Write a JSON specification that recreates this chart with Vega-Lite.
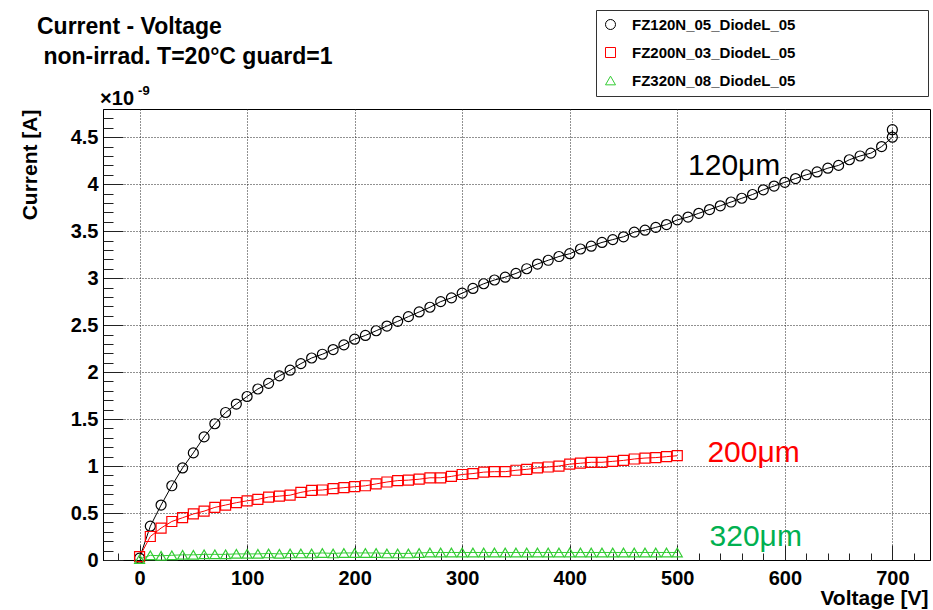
{
  "$schema": "https://vega.github.io/schema/vega-lite/v6.json",
  "width": 827,
  "height": 451,
  "autosize": {"type": "none"},
  "padding": {"left": 103, "top": 109, "right": 3, "bottom": 50},
  "background": "white",
  "title": {
    "text": ["Current - Voltage", "\u200b\u00a0non-irrad. T=20°C guard=1"],
    "anchor": "start",
    "frame": "group",
    "dx": -66,
    "font": "Liberation Sans",
    "fontSize": 23,
    "fontWeight": "bold",
    "lineHeight": 30,
    "baseline": "top",
    "offset": -59,
    "color": "#000"
  },
  "config": {
    "view": {"stroke": "#000", "strokeWidth": 1},
    "axis": {"labelFont": "Liberation Sans", "titleFont": "Liberation Sans"}
  },
  "datasets": {
    "iv": [
      {"sample": "FZ120N_05_DiodeL_05", "voltage": 0, "current": 0.02},
      {"sample": "FZ120N_05_DiodeL_05", "voltage": 10, "current": 0.36},
      {"sample": "FZ120N_05_DiodeL_05", "voltage": 20, "current": 0.585},
      {"sample": "FZ120N_05_DiodeL_05", "voltage": 30, "current": 0.79},
      {"sample": "FZ120N_05_DiodeL_05", "voltage": 40, "current": 0.98},
      {"sample": "FZ120N_05_DiodeL_05", "voltage": 50, "current": 1.14},
      {"sample": "FZ120N_05_DiodeL_05", "voltage": 60, "current": 1.31},
      {"sample": "FZ120N_05_DiodeL_05", "voltage": 70, "current": 1.45},
      {"sample": "FZ120N_05_DiodeL_05", "voltage": 80, "current": 1.57},
      {"sample": "FZ120N_05_DiodeL_05", "voltage": 90, "current": 1.66},
      {"sample": "FZ120N_05_DiodeL_05", "voltage": 100, "current": 1.74},
      {"sample": "FZ120N_05_DiodeL_05", "voltage": 110, "current": 1.82},
      {"sample": "FZ120N_05_DiodeL_05", "voltage": 120, "current": 1.88},
      {"sample": "FZ120N_05_DiodeL_05", "voltage": 130, "current": 1.96},
      {"sample": "FZ120N_05_DiodeL_05", "voltage": 140, "current": 2.02},
      {"sample": "FZ120N_05_DiodeL_05", "voltage": 150, "current": 2.09},
      {"sample": "FZ120N_05_DiodeL_05", "voltage": 160, "current": 2.15},
      {"sample": "FZ120N_05_DiodeL_05", "voltage": 170, "current": 2.19},
      {"sample": "FZ120N_05_DiodeL_05", "voltage": 180, "current": 2.24},
      {"sample": "FZ120N_05_DiodeL_05", "voltage": 190, "current": 2.29},
      {"sample": "FZ120N_05_DiodeL_05", "voltage": 200, "current": 2.35},
      {"sample": "FZ120N_05_DiodeL_05", "voltage": 210, "current": 2.39},
      {"sample": "FZ120N_05_DiodeL_05", "voltage": 220, "current": 2.44},
      {"sample": "FZ120N_05_DiodeL_05", "voltage": 230, "current": 2.49},
      {"sample": "FZ120N_05_DiodeL_05", "voltage": 240, "current": 2.54},
      {"sample": "FZ120N_05_DiodeL_05", "voltage": 250, "current": 2.59},
      {"sample": "FZ120N_05_DiodeL_05", "voltage": 260, "current": 2.64},
      {"sample": "FZ120N_05_DiodeL_05", "voltage": 270, "current": 2.69},
      {"sample": "FZ120N_05_DiodeL_05", "voltage": 280, "current": 2.75},
      {"sample": "FZ120N_05_DiodeL_05", "voltage": 290, "current": 2.79},
      {"sample": "FZ120N_05_DiodeL_05", "voltage": 300, "current": 2.84},
      {"sample": "FZ120N_05_DiodeL_05", "voltage": 310, "current": 2.89},
      {"sample": "FZ120N_05_DiodeL_05", "voltage": 320, "current": 2.94},
      {"sample": "FZ120N_05_DiodeL_05", "voltage": 330, "current": 2.98},
      {"sample": "FZ120N_05_DiodeL_05", "voltage": 340, "current": 3.01},
      {"sample": "FZ120N_05_DiodeL_05", "voltage": 350, "current": 3.05},
      {"sample": "FZ120N_05_DiodeL_05", "voltage": 360, "current": 3.10},
      {"sample": "FZ120N_05_DiodeL_05", "voltage": 370, "current": 3.15},
      {"sample": "FZ120N_05_DiodeL_05", "voltage": 380, "current": 3.19},
      {"sample": "FZ120N_05_DiodeL_05", "voltage": 390, "current": 3.23},
      {"sample": "FZ120N_05_DiodeL_05", "voltage": 400, "current": 3.26},
      {"sample": "FZ120N_05_DiodeL_05", "voltage": 410, "current": 3.31},
      {"sample": "FZ120N_05_DiodeL_05", "voltage": 420, "current": 3.34},
      {"sample": "FZ120N_05_DiodeL_05", "voltage": 430, "current": 3.38},
      {"sample": "FZ120N_05_DiodeL_05", "voltage": 440, "current": 3.41},
      {"sample": "FZ120N_05_DiodeL_05", "voltage": 450, "current": 3.44},
      {"sample": "FZ120N_05_DiodeL_05", "voltage": 460, "current": 3.49},
      {"sample": "FZ120N_05_DiodeL_05", "voltage": 470, "current": 3.51},
      {"sample": "FZ120N_05_DiodeL_05", "voltage": 480, "current": 3.54},
      {"sample": "FZ120N_05_DiodeL_05", "voltage": 490, "current": 3.57},
      {"sample": "FZ120N_05_DiodeL_05", "voltage": 500, "current": 3.62},
      {"sample": "FZ120N_05_DiodeL_05", "voltage": 510, "current": 3.65},
      {"sample": "FZ120N_05_DiodeL_05", "voltage": 520, "current": 3.69},
      {"sample": "FZ120N_05_DiodeL_05", "voltage": 530, "current": 3.73},
      {"sample": "FZ120N_05_DiodeL_05", "voltage": 540, "current": 3.77},
      {"sample": "FZ120N_05_DiodeL_05", "voltage": 550, "current": 3.81},
      {"sample": "FZ120N_05_DiodeL_05", "voltage": 560, "current": 3.85},
      {"sample": "FZ120N_05_DiodeL_05", "voltage": 570, "current": 3.89},
      {"sample": "FZ120N_05_DiodeL_05", "voltage": 580, "current": 3.94},
      {"sample": "FZ120N_05_DiodeL_05", "voltage": 590, "current": 3.98},
      {"sample": "FZ120N_05_DiodeL_05", "voltage": 600, "current": 4.02},
      {"sample": "FZ120N_05_DiodeL_05", "voltage": 610, "current": 4.06},
      {"sample": "FZ120N_05_DiodeL_05", "voltage": 620, "current": 4.10},
      {"sample": "FZ120N_05_DiodeL_05", "voltage": 630, "current": 4.13},
      {"sample": "FZ120N_05_DiodeL_05", "voltage": 640, "current": 4.17},
      {"sample": "FZ120N_05_DiodeL_05", "voltage": 650, "current": 4.20},
      {"sample": "FZ120N_05_DiodeL_05", "voltage": 660, "current": 4.26},
      {"sample": "FZ120N_05_DiodeL_05", "voltage": 670, "current": 4.30},
      {"sample": "FZ120N_05_DiodeL_05", "voltage": 680, "current": 4.33},
      {"sample": "FZ120N_05_DiodeL_05", "voltage": 690, "current": 4.40},
      {"sample": "FZ120N_05_DiodeL_05", "voltage": 700, "current": 4.50},
      {"sample": "FZ120N_05_DiodeL_05", "voltage": 700, "current": 4.58},
      {"sample": "FZ200N_03_DiodeL_05", "voltage": 0, "current": 0.035},
      {"sample": "FZ200N_03_DiodeL_05", "voltage": 10, "current": 0.25},
      {"sample": "FZ200N_03_DiodeL_05", "voltage": 20, "current": 0.34},
      {"sample": "FZ200N_03_DiodeL_05", "voltage": 30, "current": 0.41},
      {"sample": "FZ200N_03_DiodeL_05", "voltage": 40, "current": 0.45},
      {"sample": "FZ200N_03_DiodeL_05", "voltage": 50, "current": 0.49},
      {"sample": "FZ200N_03_DiodeL_05", "voltage": 60, "current": 0.52},
      {"sample": "FZ200N_03_DiodeL_05", "voltage": 70, "current": 0.56},
      {"sample": "FZ200N_03_DiodeL_05", "voltage": 80, "current": 0.585},
      {"sample": "FZ200N_03_DiodeL_05", "voltage": 90, "current": 0.61},
      {"sample": "FZ200N_03_DiodeL_05", "voltage": 100, "current": 0.63},
      {"sample": "FZ200N_03_DiodeL_05", "voltage": 110, "current": 0.645},
      {"sample": "FZ200N_03_DiodeL_05", "voltage": 120, "current": 0.67},
      {"sample": "FZ200N_03_DiodeL_05", "voltage": 130, "current": 0.68},
      {"sample": "FZ200N_03_DiodeL_05", "voltage": 140, "current": 0.69},
      {"sample": "FZ200N_03_DiodeL_05", "voltage": 150, "current": 0.72},
      {"sample": "FZ200N_03_DiodeL_05", "voltage": 160, "current": 0.74},
      {"sample": "FZ200N_03_DiodeL_05", "voltage": 170, "current": 0.745},
      {"sample": "FZ200N_03_DiodeL_05", "voltage": 180, "current": 0.76},
      {"sample": "FZ200N_03_DiodeL_05", "voltage": 190, "current": 0.77},
      {"sample": "FZ200N_03_DiodeL_05", "voltage": 200, "current": 0.78},
      {"sample": "FZ200N_03_DiodeL_05", "voltage": 210, "current": 0.79},
      {"sample": "FZ200N_03_DiodeL_05", "voltage": 220, "current": 0.81},
      {"sample": "FZ200N_03_DiodeL_05", "voltage": 230, "current": 0.83},
      {"sample": "FZ200N_03_DiodeL_05", "voltage": 240, "current": 0.845},
      {"sample": "FZ200N_03_DiodeL_05", "voltage": 250, "current": 0.85},
      {"sample": "FZ200N_03_DiodeL_05", "voltage": 260, "current": 0.86},
      {"sample": "FZ200N_03_DiodeL_05", "voltage": 270, "current": 0.875},
      {"sample": "FZ200N_03_DiodeL_05", "voltage": 280, "current": 0.875},
      {"sample": "FZ200N_03_DiodeL_05", "voltage": 290, "current": 0.89},
      {"sample": "FZ200N_03_DiodeL_05", "voltage": 300, "current": 0.91},
      {"sample": "FZ200N_03_DiodeL_05", "voltage": 310, "current": 0.92},
      {"sample": "FZ200N_03_DiodeL_05", "voltage": 320, "current": 0.935},
      {"sample": "FZ200N_03_DiodeL_05", "voltage": 330, "current": 0.94},
      {"sample": "FZ200N_03_DiodeL_05", "voltage": 340, "current": 0.94},
      {"sample": "FZ200N_03_DiodeL_05", "voltage": 350, "current": 0.955},
      {"sample": "FZ200N_03_DiodeL_05", "voltage": 360, "current": 0.965},
      {"sample": "FZ200N_03_DiodeL_05", "voltage": 370, "current": 0.98},
      {"sample": "FZ200N_03_DiodeL_05", "voltage": 380, "current": 0.99},
      {"sample": "FZ200N_03_DiodeL_05", "voltage": 390, "current": 1.00},
      {"sample": "FZ200N_03_DiodeL_05", "voltage": 400, "current": 1.02},
      {"sample": "FZ200N_03_DiodeL_05", "voltage": 410, "current": 1.03},
      {"sample": "FZ200N_03_DiodeL_05", "voltage": 420, "current": 1.04},
      {"sample": "FZ200N_03_DiodeL_05", "voltage": 430, "current": 1.04},
      {"sample": "FZ200N_03_DiodeL_05", "voltage": 440, "current": 1.05},
      {"sample": "FZ200N_03_DiodeL_05", "voltage": 450, "current": 1.06},
      {"sample": "FZ200N_03_DiodeL_05", "voltage": 460, "current": 1.075},
      {"sample": "FZ200N_03_DiodeL_05", "voltage": 470, "current": 1.085},
      {"sample": "FZ200N_03_DiodeL_05", "voltage": 480, "current": 1.09},
      {"sample": "FZ200N_03_DiodeL_05", "voltage": 490, "current": 1.10},
      {"sample": "FZ200N_03_DiodeL_05", "voltage": 500, "current": 1.11},
      {"sample": "FZ320N_08_DiodeL_05", "voltage": 0, "current": 0.01},
      {"sample": "FZ320N_08_DiodeL_05", "voltage": 10, "current": 0.05},
      {"sample": "FZ320N_08_DiodeL_05", "voltage": 20, "current": 0.045},
      {"sample": "FZ320N_08_DiodeL_05", "voltage": 30, "current": 0.05},
      {"sample": "FZ320N_08_DiodeL_05", "voltage": 40, "current": 0.055},
      {"sample": "FZ320N_08_DiodeL_05", "voltage": 50, "current": 0.055},
      {"sample": "FZ320N_08_DiodeL_05", "voltage": 60, "current": 0.06},
      {"sample": "FZ320N_08_DiodeL_05", "voltage": 70, "current": 0.06},
      {"sample": "FZ320N_08_DiodeL_05", "voltage": 80, "current": 0.06},
      {"sample": "FZ320N_08_DiodeL_05", "voltage": 90, "current": 0.065},
      {"sample": "FZ320N_08_DiodeL_05", "voltage": 100, "current": 0.065},
      {"sample": "FZ320N_08_DiodeL_05", "voltage": 110, "current": 0.065},
      {"sample": "FZ320N_08_DiodeL_05", "voltage": 120, "current": 0.07},
      {"sample": "FZ320N_08_DiodeL_05", "voltage": 130, "current": 0.065},
      {"sample": "FZ320N_08_DiodeL_05", "voltage": 140, "current": 0.07},
      {"sample": "FZ320N_08_DiodeL_05", "voltage": 150, "current": 0.07},
      {"sample": "FZ320N_08_DiodeL_05", "voltage": 160, "current": 0.07},
      {"sample": "FZ320N_08_DiodeL_05", "voltage": 170, "current": 0.075},
      {"sample": "FZ320N_08_DiodeL_05", "voltage": 180, "current": 0.07},
      {"sample": "FZ320N_08_DiodeL_05", "voltage": 190, "current": 0.075},
      {"sample": "FZ320N_08_DiodeL_05", "voltage": 200, "current": 0.075},
      {"sample": "FZ320N_08_DiodeL_05", "voltage": 210, "current": 0.075},
      {"sample": "FZ320N_08_DiodeL_05", "voltage": 220, "current": 0.075},
      {"sample": "FZ320N_08_DiodeL_05", "voltage": 230, "current": 0.07},
      {"sample": "FZ320N_08_DiodeL_05", "voltage": 240, "current": 0.07},
      {"sample": "FZ320N_08_DiodeL_05", "voltage": 250, "current": 0.07},
      {"sample": "FZ320N_08_DiodeL_05", "voltage": 260, "current": 0.075},
      {"sample": "FZ320N_08_DiodeL_05", "voltage": 270, "current": 0.08},
      {"sample": "FZ320N_08_DiodeL_05", "voltage": 280, "current": 0.08},
      {"sample": "FZ320N_08_DiodeL_05", "voltage": 290, "current": 0.08},
      {"sample": "FZ320N_08_DiodeL_05", "voltage": 300, "current": 0.08},
      {"sample": "FZ320N_08_DiodeL_05", "voltage": 310, "current": 0.08},
      {"sample": "FZ320N_08_DiodeL_05", "voltage": 320, "current": 0.08},
      {"sample": "FZ320N_08_DiodeL_05", "voltage": 330, "current": 0.08},
      {"sample": "FZ320N_08_DiodeL_05", "voltage": 340, "current": 0.08},
      {"sample": "FZ320N_08_DiodeL_05", "voltage": 350, "current": 0.08},
      {"sample": "FZ320N_08_DiodeL_05", "voltage": 360, "current": 0.08},
      {"sample": "FZ320N_08_DiodeL_05", "voltage": 370, "current": 0.08},
      {"sample": "FZ320N_08_DiodeL_05", "voltage": 380, "current": 0.08},
      {"sample": "FZ320N_08_DiodeL_05", "voltage": 390, "current": 0.08},
      {"sample": "FZ320N_08_DiodeL_05", "voltage": 400, "current": 0.08},
      {"sample": "FZ320N_08_DiodeL_05", "voltage": 410, "current": 0.08},
      {"sample": "FZ320N_08_DiodeL_05", "voltage": 420, "current": 0.08},
      {"sample": "FZ320N_08_DiodeL_05", "voltage": 430, "current": 0.08},
      {"sample": "FZ320N_08_DiodeL_05", "voltage": 440, "current": 0.08},
      {"sample": "FZ320N_08_DiodeL_05", "voltage": 450, "current": 0.08},
      {"sample": "FZ320N_08_DiodeL_05", "voltage": 460, "current": 0.08},
      {"sample": "FZ320N_08_DiodeL_05", "voltage": 470, "current": 0.08},
      {"sample": "FZ320N_08_DiodeL_05", "voltage": 480, "current": 0.08},
      {"sample": "FZ320N_08_DiodeL_05", "voltage": 490, "current": 0.08},
      {"sample": "FZ320N_08_DiodeL_05", "voltage": 500, "current": 0.08}
    ],
    "notes": [
      {"label": "120μm", "voltage": 510, "current": 4.096, "colour": "#000000"},
      {"label": "200μm", "voltage": 528, "current": 1.043, "colour": "#ff0000"},
      {"label": "320μm", "voltage": 530, "current": 0.149, "colour": "#00b050"}
    ],
    "exponent": [
      {"label": "×10", "voltage": -36.7, "current": 4.84, "size": 20},
      {"label": "-9", "voltage": -1.4, "current": 4.947, "size": 13}
    ]
  },
  "resolve": {"axis": {"x": "independent", "y": "independent"}},
  "layer": [
    {
      "data": {"name": "iv"},
      "transform": [{"filter": "datum.sample === 'FZ120N_05_DiodeL_05'"}],
      "mark": {"type": "line", "strokeWidth": 1, "color": "#000000"},
      "encoding": {
        "x": {
          "field": "voltage", "type": "quantitative",
          "scale": {"domain": [-34, 735], "nice": false, "zero": false},
          "axis": {
            "orient": "bottom",
            "values": [0, 100, 200, 300, 400, 500, 600, 700],
            "format": "d",
            "tickSize": -15, "tickColor": "#222", "tickWidth": 1,
            "labelPadding": 23,
            "labelFontSize": 20, "labelFontWeight": "bold", "labelColor": "#000",
            "grid": true, "gridDash": [1, 2], "gridColor": "#222", "gridWidth": 1,
            "domainColor": "#000",
            "title": "Voltage [V]",
            "titleFontSize": 21, "titleFontWeight": "bold", "titleColor": "#000",
            "titleAnchor": "end", "titleAlign": "right", "titleBaseline": "alphabetic",
            "titleX": 825, "titleY": 44
          }
        },
        "y": {
          "field": "current", "type": "quantitative",
          "scale": {"domain": [0, 4.8], "nice": false},
          "axis": {
            "orient": "left",
            "values": [0, 0.5, 1, 1.5, 2, 2.5, 3, 3.5, 4, 4.5],
            "labelExpr": "'' + datum.value",
            "tickSize": -20, "tickColor": "#222", "tickWidth": 1,
            "labelPadding": 25,
            "labelFontSize": 20, "labelFontWeight": "bold", "labelColor": "#000",
            "grid": true, "gridDash": [1, 2], "gridColor": "#222", "gridWidth": 1,
            "domainColor": "#000",
            "title": "Current [A]",
            "titleFontSize": 21, "titleFontWeight": "bold", "titleColor": "#000",
            "titleAngle": 270, "titleAlign": "right", "titleBaseline": "alphabetic",
            "titleX": -67, "titleY": 0
          }
        }
      }
    },
    {
      "data": {"name": "iv"},
      "transform": [{"filter": "datum.sample === 'FZ200N_03_DiodeL_05'"}],
      "mark": {"type": "line", "strokeWidth": 1, "color": "#ff0000"},
      "encoding": {
        "x": {"field": "voltage", "type": "quantitative", "axis": null},
        "y": {"field": "current", "type": "quantitative", "axis": null}
      }
    },
    {
      "data": {"name": "iv"},
      "transform": [{"filter": "datum.sample === 'FZ320N_08_DiodeL_05'"}],
      "mark": {"type": "line", "strokeWidth": 1, "color": "#33cc33"},
      "encoding": {
        "x": {"field": "voltage", "type": "quantitative", "axis": null},
        "y": {"field": "current", "type": "quantitative", "axis": null}
      }
    },
    {
      "data": {"name": "iv"},
      "mark": {"type": "point", "filled": false, "strokeWidth": 1.2, "size": 100, "opacity": 1},
      "encoding": {
        "x": {
          "field": "voltage", "type": "quantitative",
          "axis": {
            "orient": "bottom",
            "values": [-20, 20, 40, 60, 80, 120, 140, 160, 180, 220, 240, 260, 280, 320, 340, 360, 380, 420, 440, 460, 480, 520, 540, 560, 580, 620, 640, 660, 680, 720],
            "tickSize": -7, "tickColor": "#222", "tickWidth": 1,
            "labels": false, "grid": false, "domain": false, "title": null
          }
        },
        "y": {
          "field": "current", "type": "quantitative",
          "axis": {
            "orient": "left",
            "values": [0.1, 0.2, 0.3, 0.4, 0.6, 0.7, 0.8, 0.9, 1.1, 1.2, 1.3, 1.4, 1.6, 1.7, 1.8, 1.9, 2.1, 2.2, 2.3, 2.4, 2.6, 2.7, 2.8, 2.9, 3.1, 3.2, 3.3, 3.4, 3.6, 3.7, 3.8, 3.9, 4.1, 4.2, 4.3, 4.4, 4.6, 4.7],
            "tickSize": -10, "tickColor": "#222", "tickWidth": 1,
            "labels": false, "grid": false, "domain": false, "title": null
          }
        },
        "color": {"field": "sample", "type": "nominal",
          "scale": {"domain": ["FZ120N_05_DiodeL_05", "FZ200N_03_DiodeL_05", "FZ320N_08_DiodeL_05"], "range": ["#000000", "#ff0000", "#33cc33"]},
          "legend": {
            "orient": "none", "legendX": 493, "legendY": -99,
            "title": null,
            "strokeColor": "#333", "fillColor": "#ffffff",
            "padding": 7,
            "labelFont": "Liberation Sans", "labelFontWeight": "bold", "labelFontSize": 15, "labelColor": "#000",
            "labelLimit": 600,
            "labelExpr": "datum.label + '\u00a0\u00a0\u00a0\u00a0\u00a0\u00a0\u00a0\u00a0\u00a0\u00a0\u00a0\u00a0\u00a0\u00a0\u00a0\u00a0\u00a0\u00a0\u00a0\u00a0\u00a0\u00a0\u00a0\u00a0\u00a0\u00a0\u00a0\u00a0\u00a0\u00a0\u200b'",
            "symbolSize": 100, "symbolStrokeWidth": 1,
            "rowPadding": 12, "labelOffset": 14
          }
        },
        "shape": {"field": "sample", "type": "nominal",
          "scale": {"domain": ["FZ120N_05_DiodeL_05", "FZ200N_03_DiodeL_05", "FZ320N_08_DiodeL_05"], "range": ["circle", "square", "triangle-up"]}}
      }
    },
    {
      "data": {"name": "notes"},
      "mark": {"type": "text", "font": "Liberation Sans", "fontSize": 30, "align": "left", "baseline": "alphabetic"},
      "encoding": {
        "x": {"field": "voltage", "type": "quantitative", "axis": null},
        "y": {"field": "current", "type": "quantitative", "axis": null},
        "text": {"field": "label"},
        "color": {"field": "colour", "type": "nominal", "scale": null}
      }
    },
    {
      "data": {"name": "exponent"},
      "mark": {"type": "text", "font": "Liberation Sans", "fontWeight": "bold", "align": "left", "baseline": "alphabetic", "color": "#000"},
      "encoding": {
        "x": {"field": "voltage", "type": "quantitative", "axis": null},
        "y": {"field": "current", "type": "quantitative", "axis": null},
        "text": {"field": "label"},
        "size": {"field": "size", "type": "quantitative", "scale": null}
      }
    }
  ]
}
